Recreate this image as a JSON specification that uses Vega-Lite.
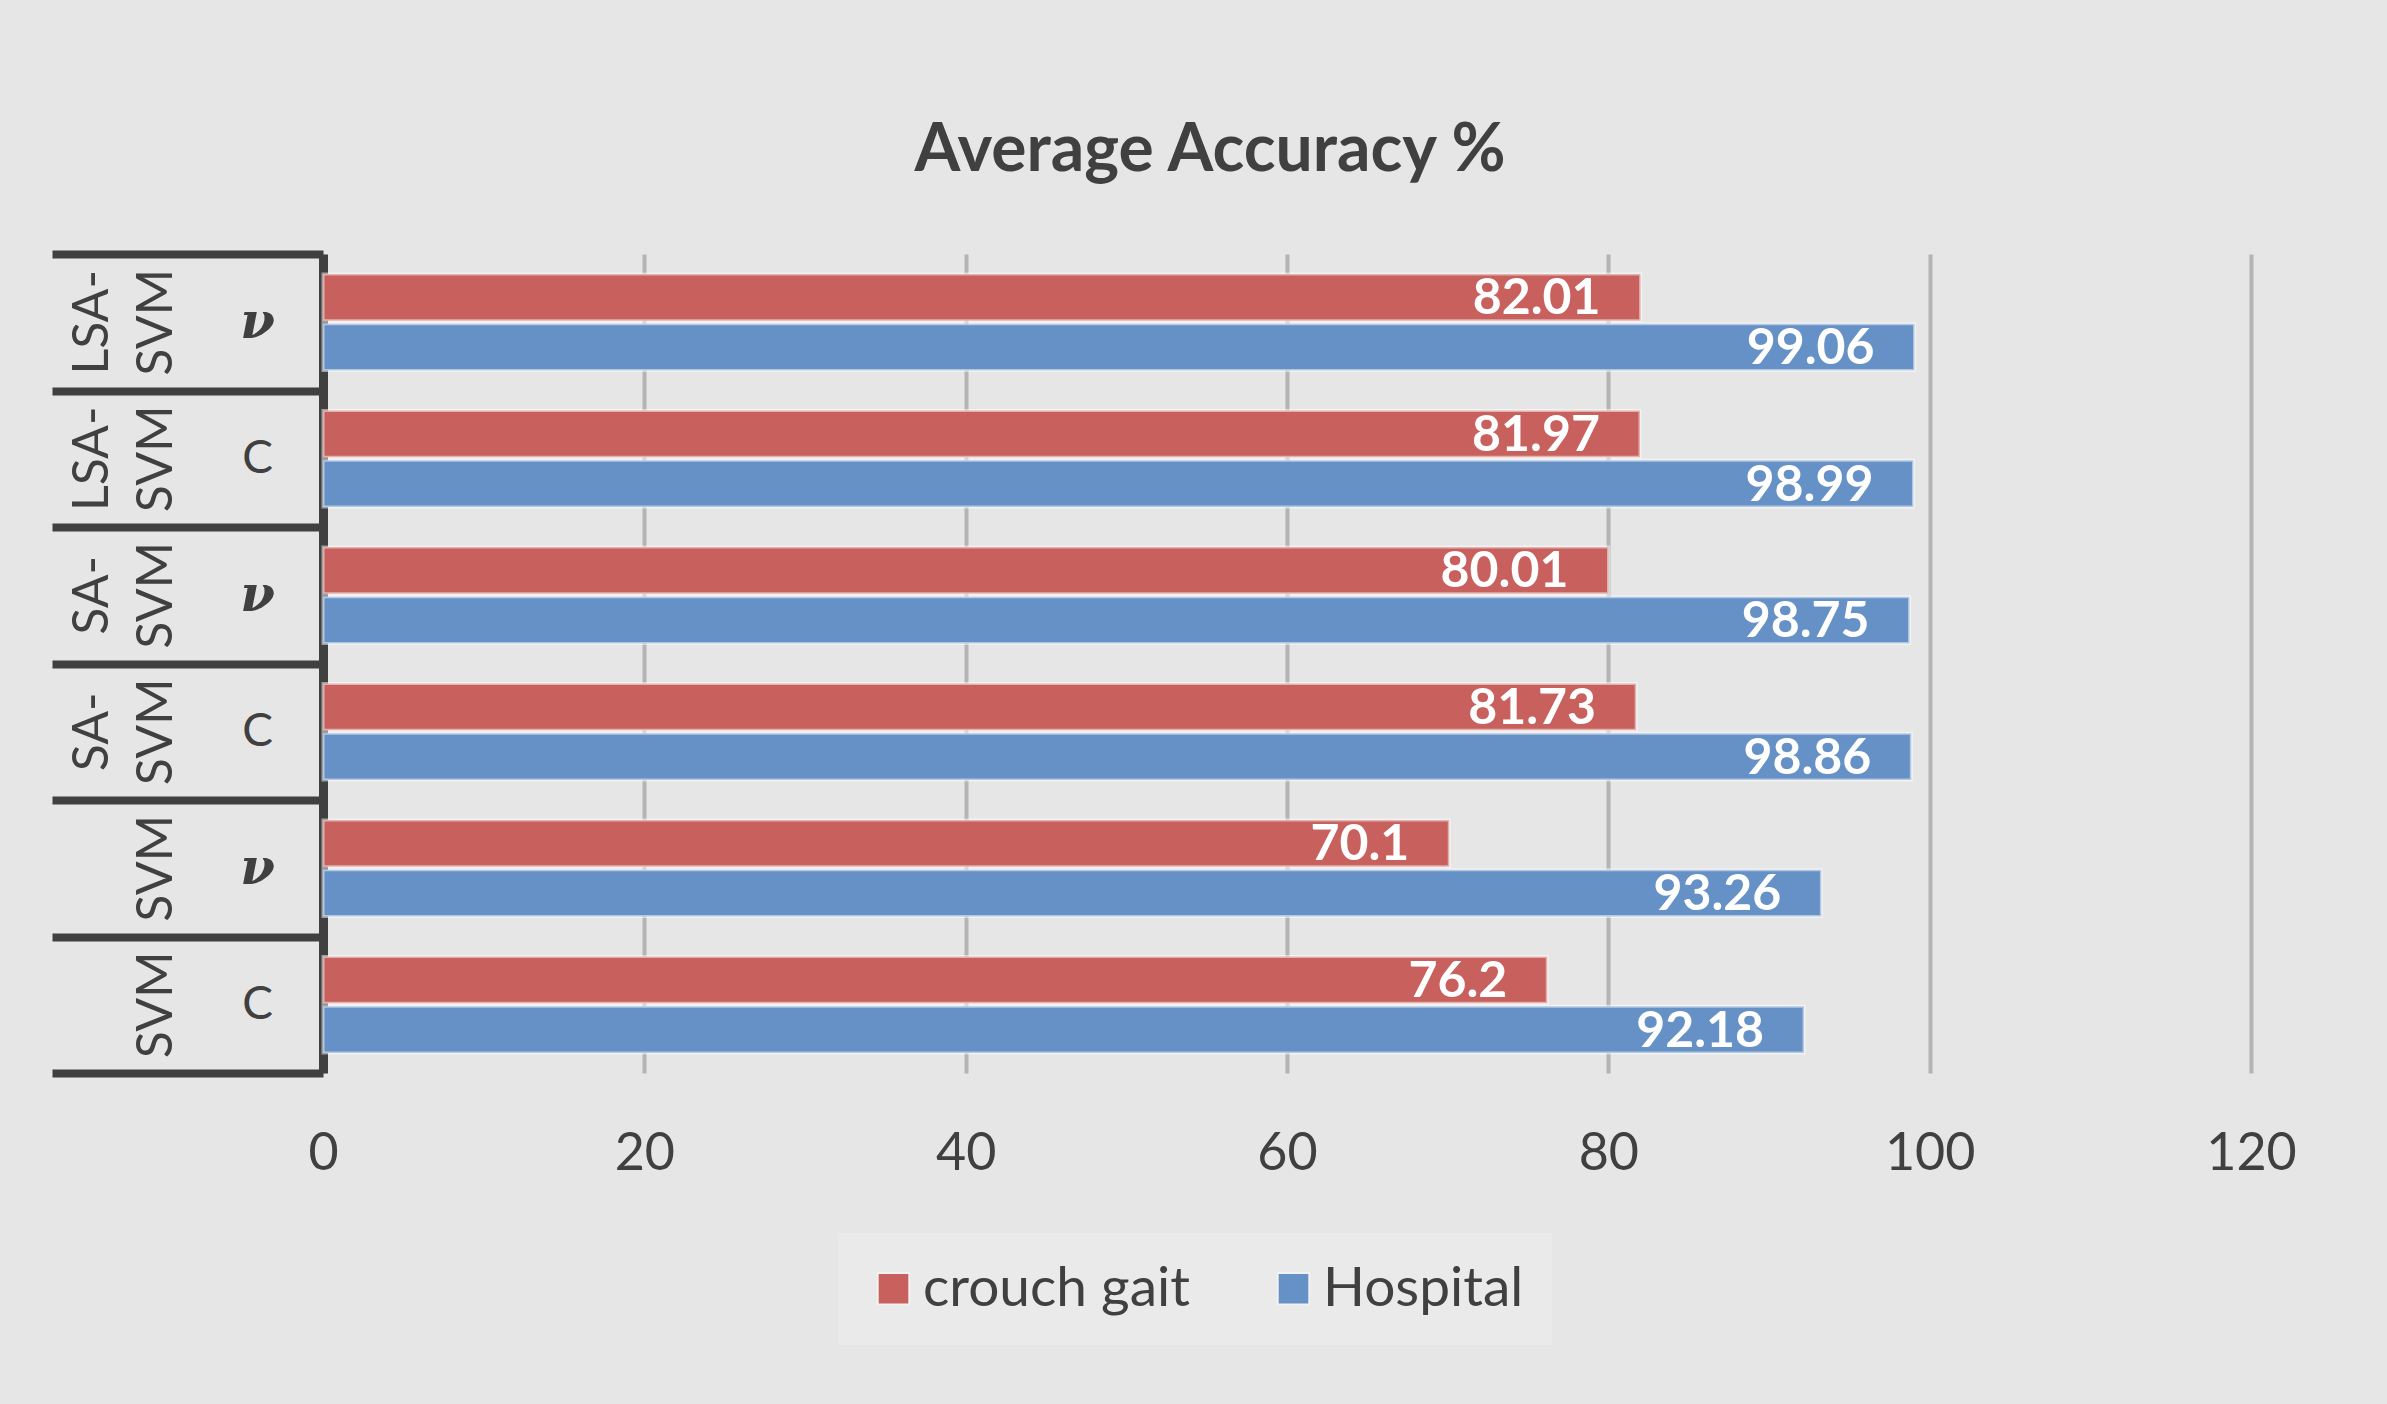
{
  "$schema": "https://vega.github.io/schema/vega-lite/v6.json",
  "width": 1928,
  "height": 819,
  "padding": {"left": 48, "right": 134, "top": 118, "bottom": 63},
  "background": "#e6e6e6",
  "title": {"text": "Average Accuracy %", "font": "Lato", "fontSize": 66, "fontWeight": "bold", "color": "#404040", "anchor": "middle", "dx": -77, "offset": -6, "baseline": "alphabetic"},
  "config": {"view": {"stroke": null}, "font": "Lato"},
  "data": {"values": [
    {"group": "LSA-SVM ν", "method": "LSA-SVM", "series": "crouch gait", "value": 82.01},
    {"group": "LSA-SVM ν", "method": "LSA-SVM", "series": "Hospital", "value": 99.06},
    {"group": "LSA-SVM C", "method": "LSA-SVM", "series": "crouch gait", "value": 81.97},
    {"group": "LSA-SVM C", "method": "LSA-SVM", "series": "Hospital", "value": 98.99},
    {"group": "SA-SVM ν", "method": "SA-SVM", "series": "crouch gait", "value": 80.01},
    {"group": "SA-SVM ν", "method": "SA-SVM", "series": "Hospital", "value": 98.75},
    {"group": "SA-SVM C", "method": "SA-SVM", "series": "crouch gait", "value": 81.73},
    {"group": "SA-SVM C", "method": "SA-SVM", "series": "Hospital", "value": 98.86},
    {"group": "SVM ν", "method": "SVM", "series": "crouch gait", "value": 70.1},
    {"group": "SVM ν", "method": "SVM", "series": "Hospital", "value": 93.26},
    {"group": "SVM C", "method": "SVM", "series": "crouch gait", "value": 76.2},
    {"group": "SVM C", "method": "SVM", "series": "Hospital", "value": 92.18}
  ]},
  "encoding": {
    "y": {"field": "group", "type": "nominal",
      "sort": ["LSA-SVM ν", "LSA-SVM C", "SA-SVM ν", "SA-SVM C", "SVM ν", "SVM C"],
      "scale": {"paddingInner": 0, "paddingOuter": 0}}
  },
  "layer": [
    {
      "encoding": {
        "y": {"field": "group", "type": "nominal",
          "sort": ["LSA-SVM ν", "LSA-SVM C", "SA-SVM ν", "SA-SVM C", "SVM ν", "SVM C"],
          "axis": {"title": null, "orient": "left", "domainColor": "#404040", "domainWidth": 9,
            "ticks": true, "tickBand": "extent", "tickSize": 271, "tickWidth": 8, "tickColor": "#404040",
            "labelExpr": "length(split(datum.label + '', ' ')) > 1 ? split(datum.label + '', ' ')[1] : ''",
            "labelAlign": "center", "labelBaseline": "middle",
            "labelPadding": -205, "labelColor": "#404040",
            "labelFont": {"condition": {"test": "indexof(datum.label + '', 'ν') >= 0", "value": "DejaVu Serif"}, "value": "Lato"},
            "labelFontWeight": {"condition": {"test": "indexof(datum.label + '', 'ν') >= 0", "value": "bold"}, "value": "normal"},
            "labelFontStyle": {"condition": {"test": "indexof(datum.label + '', 'ν') >= 0", "value": "italic"}, "value": "normal"},
            "labelFontSize": {"condition": {"test": "indexof(datum.label + '', 'ν') >= 0", "value": 50}, "value": 46}}},
        "yOffset": {"field": "series", "type": "nominal", "sort": ["crouch gait", "Hospital"], "scale": {"paddingInner": 0.06, "paddingOuter": 0.4}},
        "x": {"field": "value", "type": "quantitative", "scale": {"domain": [0, 120]},
          "axis": {"title": null, "values": [0, 20, 40, 60, 80, 100, 120], "domain": false, "ticks": false, "labelFlush": false,
            "grid": true, "gridColor": "#b4b4b4", "gridWidth": 4, "labelFontSize": 52, "labelColor": "#404040", "labelPadding": 55, "labelFont": "Lato"}}
      },
      "layer": [
        {
          "mark": {"type": "bar", "stroke": "#ffffff", "strokeOpacity": 0.5, "strokeWidth": 3},
          "encoding": {
            "color": {"field": "series", "type": "nominal",
              "scale": {"domain": ["crouch gait", "Hospital"], "range": ["#c8605d", "#6691c6"]},
              "legend": {"title": null, "orient": "none", "legendX": 515, "legendY": 979, "direction": "horizontal",
                "symbolType": "square", "symbolSize": 1000, "symbolStrokeColor": "#f2f2f2", "symbolStrokeWidth": 2,
                "labelFontSize": 55, "labelFont": "Lato", "labelColor": "#404040", "labelLimit": 0,
                "fillColor": "#eaeaea", "padding": 28, "columnPadding": 76, "labelOffset": 2}}
          }
        },
        {
          "mark": {"type": "text", "align": "right", "baseline": "middle", "dx": -40, "dy": 2, "font": "Lato", "fontWeight": "bold", "fontSize": 50, "color": "#ffffff"},
          "encoding": {"text": {"field": "value", "type": "nominal"}}
        }
      ]
    },
    {
      "mark": {"type": "point", "opacity": 0},
      "encoding": {
        "y": {"field": "group", "type": "nominal",
          "sort": ["LSA-SVM ν", "LSA-SVM C", "SA-SVM ν", "SA-SVM C", "SVM ν", "SVM C"],
          "axis": {"title": null, "orient": "left", "domain": false, "ticks": false, "offset": 132, "labelPadding": 10,
            "labelAngle": -90, "labelAlign": "center", "labelBaseline": "bottom", "labelFontSize": 50,
            "labelFont": "Lato", "labelColor": "#404040",
            "labelExpr": "'SVM'"}}
      }
    },
    {
      "mark": {"type": "point", "opacity": 0},
      "encoding": {
        "y": {"field": "group", "type": "nominal",
          "sort": ["LSA-SVM ν", "LSA-SVM C", "SA-SVM ν", "SA-SVM C", "SVM ν", "SVM C"],
          "axis": {"title": null, "orient": "left", "domain": false, "ticks": false, "offset": 196, "labelPadding": 10,
            "labelAngle": -90, "labelAlign": "center", "labelBaseline": "bottom", "labelFontSize": 50,
            "labelFont": "Lato", "labelColor": "#404040",
            "labelExpr": "indexof(datum.label + '', 'LSA-') == 0 ? 'LSA-' : indexof(datum.label + '', 'SA-') == 0 ? 'SA-' : ''"}}
      }
    }
  ],
  "resolve": {"axis": {"y": "independent"}}
}
